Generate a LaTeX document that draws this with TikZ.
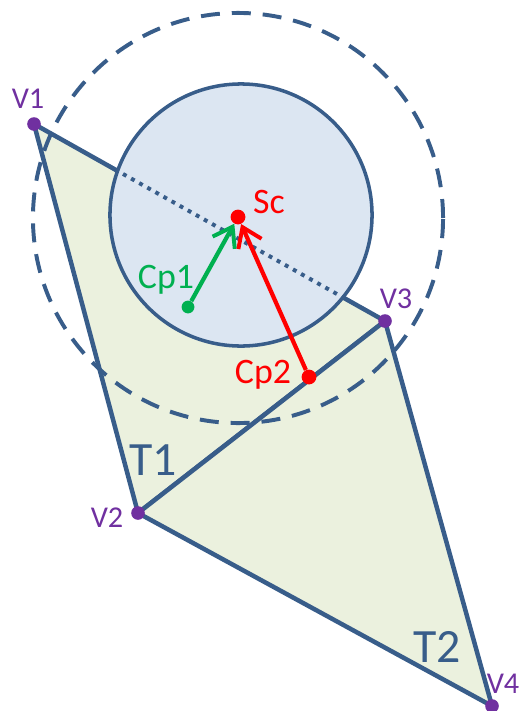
\documentclass[tikz,border=0pt]{standalone}
\usepackage{fontspec}
\setmainfont{Carlito}
\usepackage{xcolor}
\usetikzlibrary{arrows.meta}
\definecolor{edgeblue}{HTML}{385D8A}
\definecolor{tribg}{HTML}{EBF1DE}
\definecolor{spherebg}{HTML}{DCE6F2}
\definecolor{vpurple}{HTML}{7030A0}
\definecolor{cpgreen}{HTML}{00B050}

\begin{document}
\begin{tikzpicture}[x=0.025cm,y=-0.025cm,
    vertex/.style={circle,fill=vpurple,minimum size=0.34cm,inner sep=0pt},
    point/.style={circle,fill=red,minimum size=0.37cm,inner sep=0pt},
    tri/.style={fill=tribg,draw=edgeblue,line width=3.2pt,line join=round},
    sphere/.style={draw=edgeblue,line width=2.5pt},
    bound/.style={draw=edgeblue,line width=2.8pt,dash pattern=on 13.5pt off 8.5pt},
    hidden/.style={draw=edgeblue,line width=2.8pt,dash pattern=on 2.8pt off 3.8pt},
    vec/.style={-{Straight Barb[length=13pt,width=18pt,line width=2.8pt]},line width=3pt},
    vlabel/.style={text=vpurple,font=\fontsize{21.5}{25}\selectfont,inner sep=0pt,anchor=base},
    plabel/.style={font=\fontsize{25.5}{30}\selectfont,inner sep=0pt,anchor=base},
    tlabel/.style={text=edgeblue,font=\fontsize{34}{40}\selectfont,inner sep=0pt,anchor=base}
]
\useasboundingbox (0,0) rectangle (521,711);
\foreach \n/\x/\y in {1/34/124,2/138/513,3/385/321,4/492/706}
    \coordinate (c\n) at (\x,\y);
\draw[tri] (c1) -- (c2) -- (c3) -- cycle;
\draw[tri] (c2) -- (c4) -- (c3) -- cycle;
\fill[spherebg] (241,215) circle[radius=3.275cm];
\begin{scope}
    \clip (241,215) circle[radius=3.275cm];
    \draw[hidden] (c1) -- (c3);
\end{scope}
\draw[sphere] (241,215) circle[radius=3.275cm];
\draw[bound] (238,218) circle[radius=5.125cm];
\foreach \n in {1,...,4}
    \node[vertex] (v\n) at (c\n) {};
\node[point] (sc) at (238,217) {};
\node[point,fill=cpgreen,minimum size=0.32cm] (cp1) at (188,307) {};
\node[point] (cp2) at (309,377) {};
\draw[vec,cpgreen] (cp1) -- (sc);
\draw[vec,red] (cp2) -- (sc);
\node[vlabel] (lv1) at (28,108) {V1};
\node[vlabel] (lv2) at (107,527) {V2};
\node[vlabel] (lv3) at (396,308) {V3};
\node[vlabel] (lv4) at (503,693) {V4};
\node[plabel,text=red] (lsc) at (269,213) {Sc};
\node[plabel,text=cpgreen] (lcp1) at (166,288) {Cp1};
\node[plabel,text=red] (lcp2) at (263,383) {Cp2};
\node[tlabel] (lt1) at (153,475) {T1};
\node[tlabel] (lt2) at (437,662) {T2};
\end{tikzpicture}
\end{document}
